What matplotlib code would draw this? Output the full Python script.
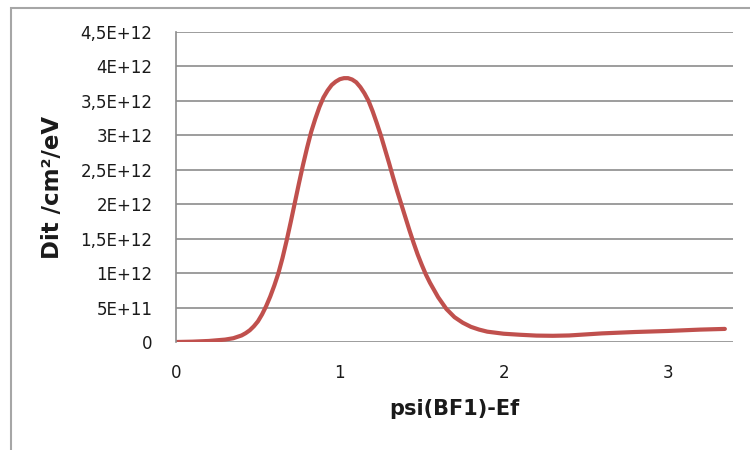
import matplotlib
matplotlib.use("Agg")
from matplotlib import pyplot as plt
from matplotlib.patches import Rectangle

# Dit curve (y in units of 1E12 /cm2/eV)
psi = [0, 0.1, 0.2, 0.3, 0.35, 0.4, 0.425, 0.45, 0.475, 0.5, 0.525, 0.55,
       0.575, 0.6, 0.625, 0.65, 0.675, 0.7, 0.725, 0.75, 0.775, 0.8, 0.825,
       0.85, 0.875, 0.9, 0.925, 0.95, 0.975, 1.0, 1.025, 1.05, 1.075, 1.1,
       1.125, 1.15, 1.175, 1.2, 1.225, 1.25, 1.275, 1.3, 1.325, 1.35,
       1.375, 1.4, 1.425, 1.45, 1.475, 1.5, 1.525, 1.55, 1.6, 1.65, 1.7,
       1.75, 1.8, 1.85, 1.9, 2.0, 2.1, 2.2, 2.3, 2.4, 2.6, 2.8, 3.0, 3.2,
       3.35]
dit_e12 = [0.0, 0.005, 0.015, 0.035, 0.055, 0.095, 0.128, 0.17, 0.228, 0.3,
           0.4, 0.52, 0.66, 0.82, 1.0, 1.22, 1.47, 1.74, 2.02, 2.3, 2.57,
           2.82, 3.05, 3.24, 3.41, 3.55, 3.65, 3.73, 3.78, 3.815, 3.83, 3.83,
           3.81, 3.77, 3.7, 3.61, 3.5, 3.35, 3.18, 3.0, 2.8, 2.6, 2.39, 2.19,
           2.0, 1.81, 1.62, 1.44, 1.27, 1.12, 0.98, 0.86, 0.65, 0.48, 0.36,
           0.28, 0.22, 0.18, 0.15, 0.12, 0.105, 0.093, 0.09, 0.095, 0.125,
           0.145, 0.16, 0.18, 0.19]
dit = [v * 1e12 for v in dit_e12]

y_ticks = [0, 0.5e12, 1e12, 1.5e12, 2e12, 2.5e12, 3e12, 3.5e12, 4e12, 4.5e12]
y_tick_labels = ["0", "5E+11", "1E+12", "1,5E+12", "2E+12", "2,5E+12",
                 "3E+12", "3,5E+12", "4E+12", "4,5E+12"]
x_ticks = [0, 1, 2, 3]

plt.rcParams["font.family"] = ["DejaVu Sans"]

fig = plt.figure(figsize=(7.5, 4.5), dpi=100)
ax = fig.add_axes([0.2347, 0.24, 0.7427, 0.6889])

# outer chart frame, partly cut off by the image edge
fig.patches.append(Rectangle((11 / 750, -0.2), 1.5, 1.2 - 8 / 450,
                             transform=fig.transFigure, fill=False,
                             edgecolor="#a6a6a6", linewidth=1.5))

ax.plot(psi, dit, color="#c0504d", linewidth=3, solid_capstyle="round",
        solid_joinstyle="round")

ax.set_xlim(0, 3.4)
ax.set_ylim(0, 4.5e12)
ax.set_yticks(y_ticks)
ax.set_yticklabels(y_tick_labels)
ax.set_xticks(x_ticks)
ax.grid(axis="y", color="#8c8c8c", linewidth=1.2)
ax.set_axisbelow(True)

for side in ["top", "right", "bottom"]:
    ax.spines[side].set_visible(False)
ax.spines["left"].set_color("#8c8c8c")
ax.spines["left"].set_linewidth(1.2)

ax.tick_params(length=0, labelsize=12, labelcolor="#1a1a1a")
ax.tick_params(axis="y", pad=17)
ax.tick_params(axis="x", pad=16)

ax.set_xlabel("psi(BF1)-Ef", fontsize=15, fontweight="bold", color="#1a1a1a", labelpad=12)
ax.set_ylabel("Dit /cm²/eV", fontsize=16.5, fontweight="bold", color="#1a1a1a", labelpad=12)

fig.savefig("out.png", dpi=100)
